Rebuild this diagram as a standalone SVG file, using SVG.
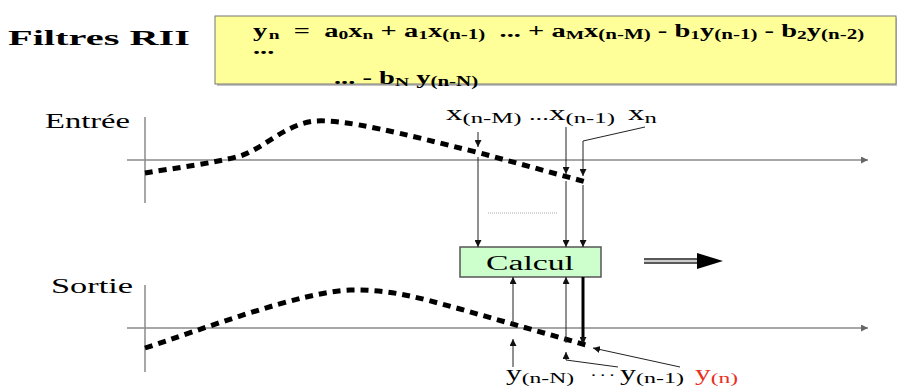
<svg xmlns="http://www.w3.org/2000/svg" width="898" height="388" viewBox="0 0 898 388">
<style>
.serif{font-family:"Liberation Serif","Times New Roman",serif;}
.bold{font-weight:bold;}
.pre{white-space:pre;}
.axis{stroke:#8a8a8a;stroke-width:1.5;fill:none;}
.curve{stroke:#000;stroke-width:5;stroke-dasharray:8 6;fill:none;}
.ln{stroke:#222;stroke-width:1;fill:none;}
</style>
<defs>
<marker id="ah" viewBox="0 0 10 10" refX="10" refY="5" markerWidth="7" markerHeight="7" markerUnits="userSpaceOnUse" orient="auto">
<path d="M0,0 L10,5 L0,10 z" fill="#111"/>
</marker>
<marker id="ahg" viewBox="0 0 10 10" refX="10" refY="5" markerWidth="9" markerHeight="7" markerUnits="userSpaceOnUse" orient="auto">
<path d="M0,0 L10,5 L0,10 z" fill="#666"/>
</marker>
</defs>
<rect width="898" height="388" fill="#fff"/>

<g id="title">
<text class="serif bold" x="8" y="45" font-size="21" textLength="182" lengthAdjust="spacingAndGlyphs">Filtres RII</text>
</g>

<g id="formula">
<rect x="217" y="18" width="680" height="68" fill="#888" opacity="0.5"/>
<rect x="215" y="16" width="681" height="68" fill="#ffff99" stroke="#777" stroke-width="1"/>
<g transform="translate(253,37) scale(1.5,1)">
<text class="serif bold pre" x="0" y="0" font-size="19">y<tspan font-size="13" dx="1" dy="2">n</tspan><tspan dy="-2">  =  a</tspan><tspan font-size="13" dy="2">0</tspan><tspan dy="-2">x</tspan><tspan font-size="13" dy="2">n</tspan><tspan dy="-2"> + a</tspan><tspan font-size="13" dy="2">1</tspan><tspan dy="-2">x</tspan><tspan font-size="14" dy="2">(n-1)</tspan><tspan dy="-2">  ... + a</tspan><tspan font-size="13" dy="2">M</tspan><tspan dy="-2">x</tspan><tspan font-size="14" dy="2">(n-M)</tspan><tspan dy="-2"> - b</tspan><tspan font-size="13" dy="2">1</tspan><tspan dy="-2">y</tspan><tspan font-size="14" dy="2">(n-1)</tspan><tspan dy="-2"> - b</tspan><tspan font-size="13" dy="2">2</tspan><tspan dy="-2">y</tspan><tspan font-size="14" dy="2">(n-2)</tspan></text>
</g>
<g transform="translate(253,54) scale(1.5,1)">
<text class="serif bold" x="0" y="0" font-size="19">...</text>
</g>
<g transform="translate(334,84) scale(1.5,1)">
<text class="serif bold pre" x="0" y="0" font-size="19">... - b<tspan font-size="13" dy="2">N</tspan><tspan dy="-2"> y</tspan><tspan font-size="14" dy="2">(n-N)</tspan></text>
</g>
</g>

<g id="entree-axis">
<text class="serif" x="45" y="128" font-size="20" textLength="85" lengthAdjust="spacingAndGlyphs">Entrée</text>
<line class="axis" x1="145" y1="117" x2="145" y2="203"/>
<line class="axis" x1="127" y1="160" x2="868" y2="160" marker-end="url(#ahg)"/>
<path class="curve" d="M145,173 C175,168 215,163 240,156 C265,148 285,124 315,121 C345,119 400,133 480,153 L586,182"/>
</g>

<g id="sortie-axis">
<text class="serif" x="51" y="293" font-size="20" textLength="82" lengthAdjust="spacingAndGlyphs">Sortie</text>
<line class="axis" x1="145" y1="285" x2="145" y2="372"/>
<line class="axis" x1="127" y1="328" x2="868" y2="328" marker-end="url(#ahg)"/>
<path class="curve" d="M145,348 C200,330 300,292 350,290 C390,289 420,298 460,309 L586,345"/>
</g>

<g id="input-labels">
<g transform="translate(446,120) scale(1.65,1)">
<text class="serif" x="0" y="0" font-size="20">x<tspan font-size="15" dy="3">(n-M)</tspan></text>
</g>
<g transform="translate(529,120) scale(1.65,1)">
<text class="serif" x="0" y="0" font-size="16">...</text>
</g>
<g transform="translate(549,120) scale(1.65,1)">
<text class="serif" x="0" y="0" font-size="20">x<tspan font-size="15" dy="3">(n-1)</tspan></text>
</g>
<g transform="translate(628,120) scale(1.65,1)">
<text class="serif" x="0" y="0" font-size="20">x<tspan font-size="15" dy="3">n</tspan></text>
</g>
</g>

<g id="calcul">
<rect x="460" y="247" width="141" height="30" fill="#ccffcc" stroke="#555" stroke-width="1.5"/>
<text class="serif" x="486" y="270" font-size="20" textLength="88" lengthAdjust="spacingAndGlyphs">Calcul</text>
</g>

<g id="output-labels">
<g transform="translate(506,380) scale(1.57,1)">
<text class="serif" x="0" y="0" font-size="20">y<tspan font-size="15" dy="3">(n-N)</tspan></text>
</g>
<g transform="translate(590,380) scale(1.5,1)">
<text class="serif" x="0" y="0" font-size="14" letter-spacing="1.5">···</text>
</g>
<g transform="translate(620,380) scale(1.6,1)">
<text class="serif" x="0" y="0" font-size="20">y<tspan font-size="15" dy="3">(n-1)</tspan></text>
</g>
<g transform="translate(695,380) scale(1.57,1)">
<text class="serif" x="0" y="0" font-size="20" fill="#e8301c">y<tspan font-size="15" dy="3">(n)</tspan></text>
</g>
</g>

<g id="connectors">
<line class="ln" x1="478" y1="132" x2="478" y2="147" marker-end="url(#ah)"/>
<line class="ln" x1="478" y1="157" x2="478" y2="247" marker-end="url(#ah)"/>
<line class="ln" x1="566" y1="127" x2="566" y2="174" marker-end="url(#ah)"/>
<line class="ln" x1="566" y1="181" x2="566" y2="247" marker-end="url(#ah)"/>
<polyline class="ln" points="645,127 583,141 583,176" marker-end="url(#ah)"/>
<line class="ln" x1="583" y1="185" x2="583" y2="247" marker-end="url(#ah)"/>
<line x1="488" y1="213" x2="557" y2="213" stroke="#aaa" stroke-width="1" stroke-dasharray="1 1"/>
<line class="ln" x1="513" y1="324" x2="513" y2="277" marker-end="url(#ah)"/>
<line class="ln" x1="513" y1="367" x2="513" y2="339" marker-end="url(#ah)"/>
<line class="ln" x1="566" y1="343" x2="566" y2="277" marker-end="url(#ah)"/>
<polyline class="ln" points="618,367 566,360 566,352" marker-end="url(#ah)"/>
<line x1="583" y1="277" x2="583" y2="344" stroke="#000" stroke-width="3" marker-end="url(#ah)"/>
<line class="ln" x1="680" y1="367" x2="593" y2="348" marker-end="url(#ah)"/>
<g id="double-arrow">
<line x1="644" y1="259" x2="698" y2="259" stroke="#222" stroke-width="1.5"/>
<line x1="644" y1="263" x2="698" y2="263" stroke="#222" stroke-width="1.5"/>
<line x1="644" y1="261" x2="698" y2="261" stroke="#999" stroke-width="1"/>
<path d="M697,253 L723,261 L697,269 z" fill="#000"/>
</g>
</g>
</svg>
